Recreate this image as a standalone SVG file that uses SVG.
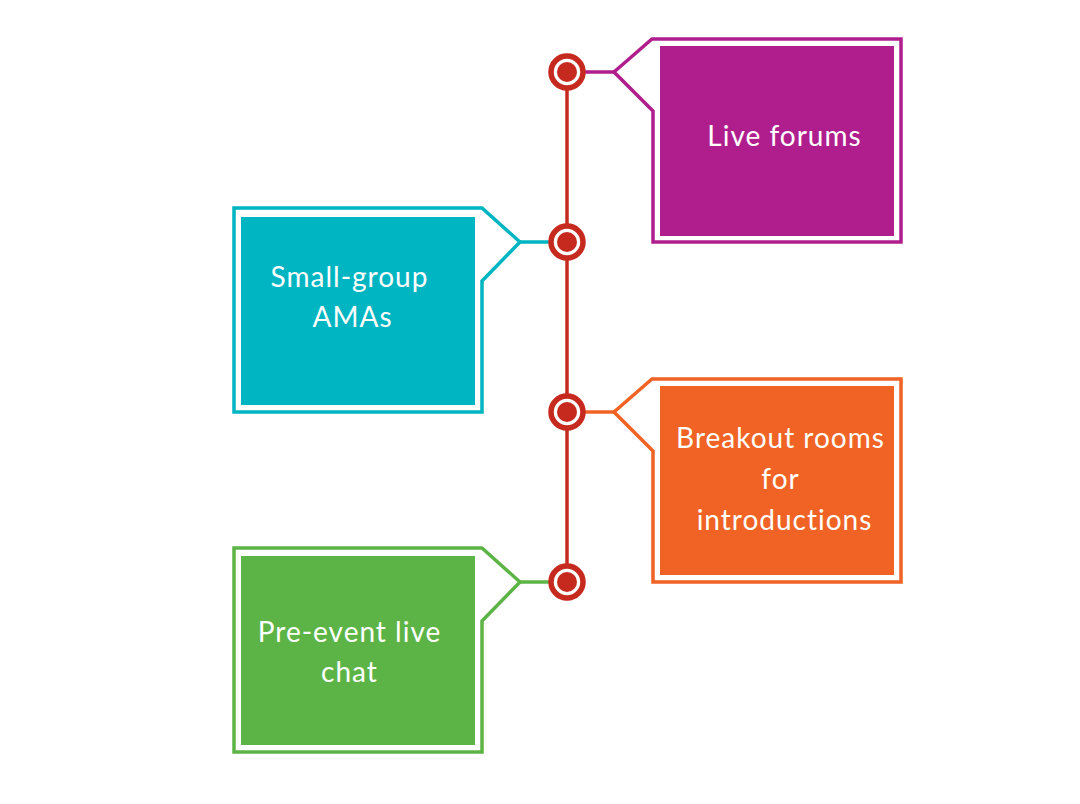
<svg xmlns="http://www.w3.org/2000/svg" width="1080" height="804" viewBox="0 0 1080 804">
<style>
.o{fill:none;stroke-width:3.5;stroke-linejoin:miter}
.t{fill:#fff;font-family:Lato,"Open Sans",sans-serif;font-size:28px;letter-spacing:1px;text-anchor:middle}
.ring{fill:#fff;stroke:#C62A1F;stroke-width:5.5}
.dot{fill:#C62A1F}
</style>
<rect width="1080" height="804" fill="#fff"/>
<g id="connectors">
<line x1="567" y1="72" x2="567" y2="582" stroke="#C62A1F" stroke-width="3.5"/>
<line x1="584" y1="72" x2="614" y2="72" stroke="#B01E8E" stroke-width="3.5"/>
<line x1="520" y1="242" x2="550" y2="242" stroke="#00B5C2" stroke-width="3.5"/>
<line x1="584" y1="412" x2="614" y2="412" stroke="#F06324" stroke-width="3.5"/>
<line x1="520" y1="582" x2="550" y2="582" stroke="#5DB446" stroke-width="3.5"/>
</g>
<g id="dots">
<circle class="ring" cx="567" cy="72" r="16"/><circle class="dot" cx="567" cy="72" r="10"/>
<circle class="ring" cx="567" cy="242" r="16"/><circle class="dot" cx="567" cy="242" r="10"/>
<circle class="ring" cx="567" cy="412" r="16"/><circle class="dot" cx="567" cy="412" r="10"/>
<circle class="ring" cx="567" cy="582" r="16"/><circle class="dot" cx="567" cy="582" r="10"/>
</g>
<g id="live-forums">
<path class="o" stroke="#B01E8E" d="M614,72 L652,39 L901,39 L901,242 L653,242 L653,111 Z"/>
<rect x="660" y="46" width="234" height="190" fill="#B01E8E"/>
<text class="t" x="784.5" y="146">Live forums</text>
</g>
<g id="small-group-amas">
<path class="o" stroke="#00B5C2" d="M520,242 L482,208 L234,208 L234,412 L482,412 L482,281 Z"/>
<rect x="241" y="217" width="234" height="188" fill="#00B5C2"/>
<text class="t" x="349.5" y="287">Small-group</text>
<text class="t" x="352.5" y="327">AMAs</text>
</g>
<g id="breakout-rooms">
<path class="o" stroke="#F06324" d="M614,412 L652,379 L901,379 L901,582 L653,582 L653,451 Z"/>
<rect x="660" y="386" width="234" height="189" fill="#F06324"/>
<text class="t" x="780.5" y="448">Breakout rooms</text>
<text class="t" x="780.5" y="489">for</text>
<text class="t" x="784.5" y="530">introductions</text>
</g>
<g id="pre-event-live-chat">
<path class="o" stroke="#5DB446" d="M520,582 L482,548 L234,548 L234,752 L482,752 L482,621 Z"/>
<rect x="241" y="556" width="234" height="189" fill="#5DB446"/>
<text class="t" x="349.5" y="642">Pre-event live</text>
<text class="t" x="349.5" y="682">chat</text>
</g>
</svg>
